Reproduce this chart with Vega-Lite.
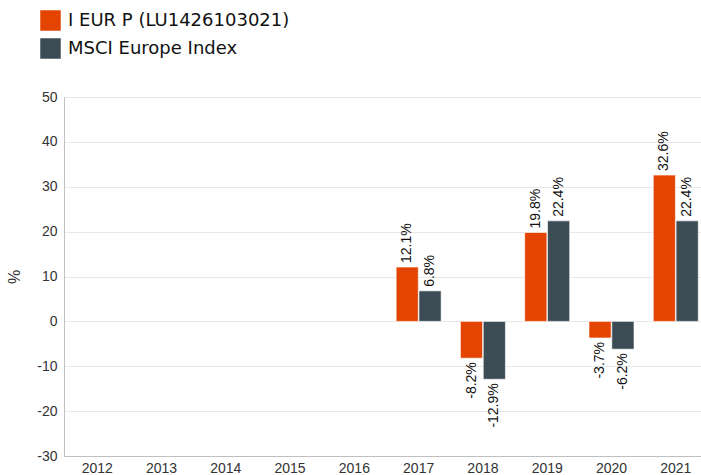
{
  "$schema": "https://vega.github.io/schema/vega-lite/v6.json",
  "width": 645,
  "height": 359,
  "autosize": "none",
  "padding": {"left": 64, "top": 97, "right": 0, "bottom": 19},
  "background": "white",
  "config": {"locale": {"number": {"decimal": ".", "thousands": ",", "grouping": [3], "currency": ["", ""], "minus": "-"}}},
  "data": {
    "values": [
      {"year": "2017", "series": "I EUR P (LU1426103021)", "value": 12.1},
      {"year": "2017", "series": "MSCI Europe Index", "value": 6.8},
      {"year": "2018", "series": "I EUR P (LU1426103021)", "value": -8.2},
      {"year": "2018", "series": "MSCI Europe Index", "value": -12.9},
      {"year": "2019", "series": "I EUR P (LU1426103021)", "value": 19.8},
      {"year": "2019", "series": "MSCI Europe Index", "value": 22.4},
      {"year": "2020", "series": "I EUR P (LU1426103021)", "value": -3.7},
      {"year": "2020", "series": "MSCI Europe Index", "value": -6.2},
      {"year": "2021", "series": "I EUR P (LU1426103021)", "value": 32.6},
      {"year": "2021", "series": "MSCI Europe Index", "value": 22.4}
    ]
  },
  "encoding": {
    "x": {
      "field": "year",
      "type": "nominal",
      "scale": {"domain": ["2012","2013","2014","2015","2016","2017","2018","2019","2020","2021"], "paddingInner": 0.3, "paddingOuter": 0.167},
      "axis": {"title": null, "labelAngle": 0, "ticks": false, "domainColor": "#c0c0c0", "labelFont": "Liberation Sans", "labelFontSize": 14, "labelColor": "#333", "labelPadding": 5, "grid": false}
    },
    "xOffset": {"field": "series", "type": "nominal", "scale": {"domain": ["I EUR P (LU1426103021)", "MSCI Europe Index"], "paddingInner": 0.03}},
    "y": {
      "field": "value",
      "type": "quantitative",
      "scale": {"domain": [-30, 50], "nice": false},
      "axis": {"title": "%", "titleFont": "Liberation Sans", "titleFontSize": 16, "titleFontWeight": "normal", "titleColor": "#333", "titlePadding": 14, "values": [-30,-20,-10,0,10,20,30,40,50], "format": "d", "ticks": false, "labelFont": "Liberation Sans", "labelFontSize": 14, "labelColor": "#333", "labelPadding": 7, "domainColor": "#c0c0c0", "gridColor": "#e8e8e8"}
    }
  },
  "layer": [
    {
      "mark": {"type": "bar", "stroke": "#ffffff", "strokeWidth": 1, "strokeOpacity": 0.6},
      "encoding": {
        "color": {
          "field": "series",
          "type": "nominal",
          "scale": {"domain": ["I EUR P (LU1426103021)", "MSCI Europe Index"], "range": ["#e34400", "#3c4c55"]},
          "legend": {"title": null, "orient": "none", "legendX": -24, "legendY": -87, "symbolType": "square", "symbolSize": 420, "symbolStrokeWidth": 0, "labelFont": "DejaVu Sans", "labelFontSize": 18, "labelColor": "#111", "labelLimit": 400, "rowPadding": 7, "labelOffset": 7}
        }
      }
    },
    {
      "transform": [{"filter": "datum.value >= 0"}],
      "mark": {"type": "text", "angle": 270, "align": "left", "baseline": "middle", "dx": 4, "font": "Liberation Sans", "fontSize": 14, "color": "#111", "text": {"expr": "format(datum.value, '.1f') + '%'"}},
      "encoding": {}
    },
    {
      "transform": [{"filter": "datum.value < 0"}],
      "mark": {"type": "text", "angle": 270, "align": "right", "baseline": "middle", "dx": -4, "font": "Liberation Sans", "fontSize": 14, "color": "#111", "text": {"expr": "format(datum.value, '.1f') + '%'"}},
      "encoding": {}
    }
  ]
}
